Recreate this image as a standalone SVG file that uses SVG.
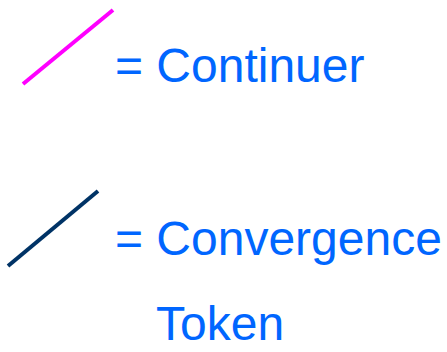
<svg xmlns="http://www.w3.org/2000/svg" width="447" height="352" viewBox="0 0 447 352">
<style>
.t{font-family:"Liberation Sans",Arial,sans-serif;font-size:48px;fill:#0066FF}
</style>
<rect width="447" height="352" fill="#fff"/>
<g id="connectors">
<line x1="23" y1="84" x2="113" y2="10" stroke="#FF00FF" stroke-width="4"/>
<line x1="8" y1="266" x2="98" y2="191" stroke="#003366" stroke-width="4"/>
</g>
<g id="continuer"><text class="t" x="115" y="82">= Continuer</text></g>
<g id="convergence"><text class="t" x="115" y="255">= Convergence</text><text class="t" x="156" y="340">Token</text></g>
</svg>
